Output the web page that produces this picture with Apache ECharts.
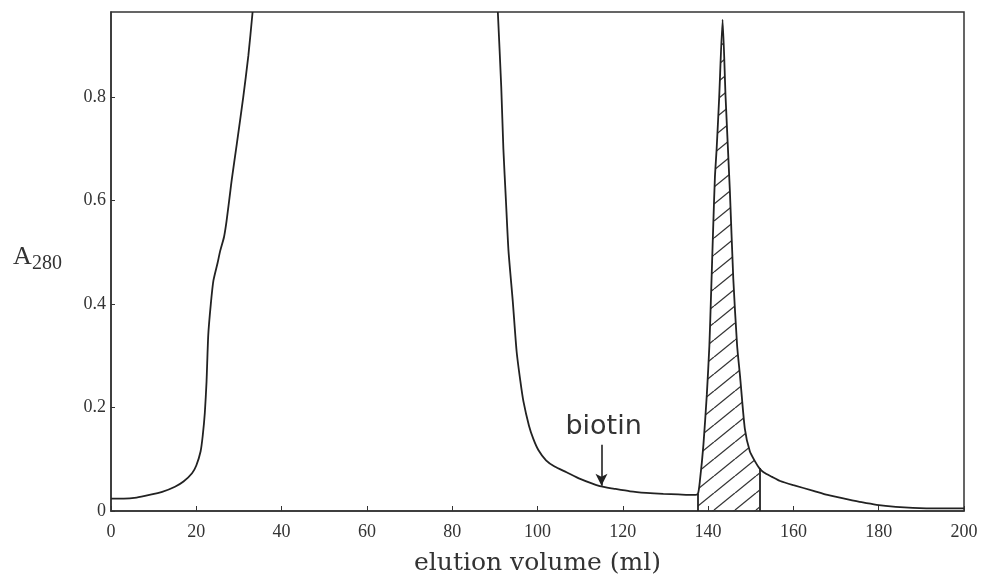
<!DOCTYPE html>
<html><head><meta charset="utf-8">
<script src="https://cdn.jsdelivr.net/npm/echarts@6/dist/echarts.min.js"></script>
<style>html,body{margin:0;padding:0;background:#fff}#c{width:986px;height:585px}</style>
</head><body><div id="c"></div>
<script>
// elution volume (ml) / A280 readings
const riseVol   = [0, 3, 6, 9, 12, 15, 17, 19, 20, 21, 21.5, 22, 22.4, 22.8, 23.4, 24.0, 25.0, 25.6, 26.5, 27.1, 28.0, 28.3, 29.5, 31.0, 32.2, 33.2];
const riseA280  = [0.024, 0.024, 0.026, 0.031, 0.037, 0.047, 0.057, 0.073, 0.088, 0.115, 0.145, 0.19, 0.25, 0.34, 0.40, 0.445, 0.48, 0.503, 0.53, 0.561, 0.62, 0.64, 0.71, 0.80, 0.88, 0.965];
const fallVol   = [90.7, 91.5, 92.0, 92.6, 93.2, 94.2, 95.1, 96.0, 96.7, 98.0, 99.0, 100.2, 102, 104, 106.8, 110, 114.6, 118, 121.7, 125.5, 129.5, 133, 136.5];
const fallA280  = [0.965, 0.82, 0.70, 0.60, 0.503, 0.406, 0.309, 0.25, 0.212, 0.165, 0.14, 0.118, 0.098, 0.086, 0.075, 0.062, 0.048, 0.043, 0.038, 0.035, 0.033, 0.032, 0.031];
const peakVol   = [137.6, 138.1, 138.9, 139.7, 140.3, 140.7, 141.2, 141.6, 142.0, 142.6, 143.4, 144.1, 145.1, 145.9, 146.8, 147.5, 148.6, 149.8, 151.0, 152.0];
const peakA280  = [0.033, 0.06, 0.128, 0.225, 0.32, 0.42, 0.55, 0.646, 0.70, 0.80, 0.95, 0.80, 0.62, 0.45, 0.32, 0.26, 0.16, 0.115, 0.096, 0.083];
const tailVol   = [153, 155, 156.9, 160, 164.7, 168, 172.5, 176, 179.5, 184, 188, 194, 200];
const tailA280  = [0.075, 0.066, 0.058, 0.050, 0.039, 0.031, 0.023, 0.017, 0.012, 0.008, 0.006, 0.005, 0.005];
const xTicks    = [0, 20, 40, 60, 80, 100, 120, 140, 160, 180, 200];
const yTicks    = [0, 0.2, 0.4, 0.6, 0.8];
const biotinVol = 115;

const pairs = (xs, ys) => xs.map((x, i) => [x, ys[i]]);
const curve = [].concat(pairs(riseVol, riseA280), [[60, null]], pairs(fallVol, fallA280), pairs(peakVol, peakA280), pairs(tailVol, tailA280));
const peak = pairs(peakVol, peakA280);
const firstPeak = peak[0], lastPeak = peak[peak.length - 1];

function hatchPattern() {
  const w = 21, h = 17;
  const c = document.createElement('canvas');
  c.width = w; c.height = h;
  const g = c.getContext('2d');
  g.strokeStyle = '#333'; g.lineWidth = 1.3;
  for (const dx of [-w, 0, w]) {
    g.beginPath(); g.moveTo(dx, h); g.lineTo(dx + w, 0); g.stroke();
  }
  return c;
}

const lineCol = '#222';
const smoothK = 0.2;
const chart = echarts.init(document.getElementById('c'), null, { renderer: 'canvas' });
const serif = 'Liberation Serif';
chart.setOption({
  animation: false,
  backgroundColor: '#fff',
  grid: { left: 111, right: 22, top: 12, bottom: 74, show: true, borderColor: '#333', borderWidth: 1.5 },
  xAxis: {
    type: 'value', min: 0, max: 200, interval: 20,
    name: 'elution volume (ml)', nameLocation: 'middle', nameGap: 40,
    nameTextStyle: { fontFamily: 'DejaVu Serif', fontSize: 25, color: '#333' },
    axisLine: { show: true, lineStyle: { color: '#333', width: 1.5 } },
    axisTick: { show: true, inside: true, length: 5, lineStyle: { color: '#333' } },
    axisLabel: { fontFamily: serif, fontSize: 18, color: '#333', margin: 12,
      formatter: v => xTicks.includes(v) ? String(v) : '' },
    splitLine: { show: false }
  },
  yAxis: {
    type: 'value', min: 0, max: 0.965, interval: 0.2,
    axisLine: { show: true, lineStyle: { color: '#333', width: 1.5 } },
    axisTick: { show: true, inside: true, length: 4, lineStyle: { color: '#333' } },
    axisLabel: { fontFamily: serif, fontSize: 18, color: '#333', margin: 5, showMaxLabel: false,
      formatter: v => yTicks.some(t => Math.abs(t - v) < 1e-9) ? String(v) : '' },
    splitLine: { show: false }
  },
  graphic: [
    { type: 'text', left: 13, top: 244, style: { text: 'A', font: '26px "Liberation Serif"', fill: '#333' } },
    { type: 'text', left: 32, top: 254, style: { text: '280', font: '20px "Liberation Serif"', fill: '#333' } }
  ],
  series: [
    {
      type: 'line', data: peak, showSymbol: false, silent: true, z: 2,
      smooth: smoothK,
      lineStyle: { width: 0, opacity: 0 },
      areaStyle: { color: { image: hatchPattern(), repeat: 'repeat' }, opacity: 1, origin: 0 },
      markLine: {
        silent: true, animation: false, symbol: 'none',
        lineStyle: { color: lineCol, width: 1.8, type: 'solid' },
        label: { show: false },
        data: [
          [{ coord: [firstPeak[0], 0] }, { coord: firstPeak }],
          [{ coord: [lastPeak[0], 0] }, { coord: lastPeak }]
        ]
      }
    },
    {
      type: 'line', data: curve, showSymbol: false, connectNulls: false, silent: true, z: 3,
      smooth: smoothK,
      lineStyle: { color: lineCol, width: 1.8 },
      markLine: {
        silent: true, animation: false,
        lineStyle: { color: lineCol, width: 1.6, type: 'solid' },
        label: { show: false },
        data: [[
          { coord: [biotinVol, 0.128], symbol: 'none' },
          { coord: [biotinVol, 0.049], symbol: 'arrow', symbolSize: [9, 12] }
        ]]
      },
      markPoint: {
        silent: true, animation: false,
        data: [{
          coord: [biotinVol + 0.5, 0.163], symbol: 'circle', symbolSize: 1,
          itemStyle: { color: 'rgba(0,0,0,0)' },
          label: { show: true, position: 'inside', formatter: 'biotin',
            fontFamily: 'DejaVu Sans', fontSize: 27, color: '#333' }
        }]
      }
    }
  ]
});
</script>
</body></html>
